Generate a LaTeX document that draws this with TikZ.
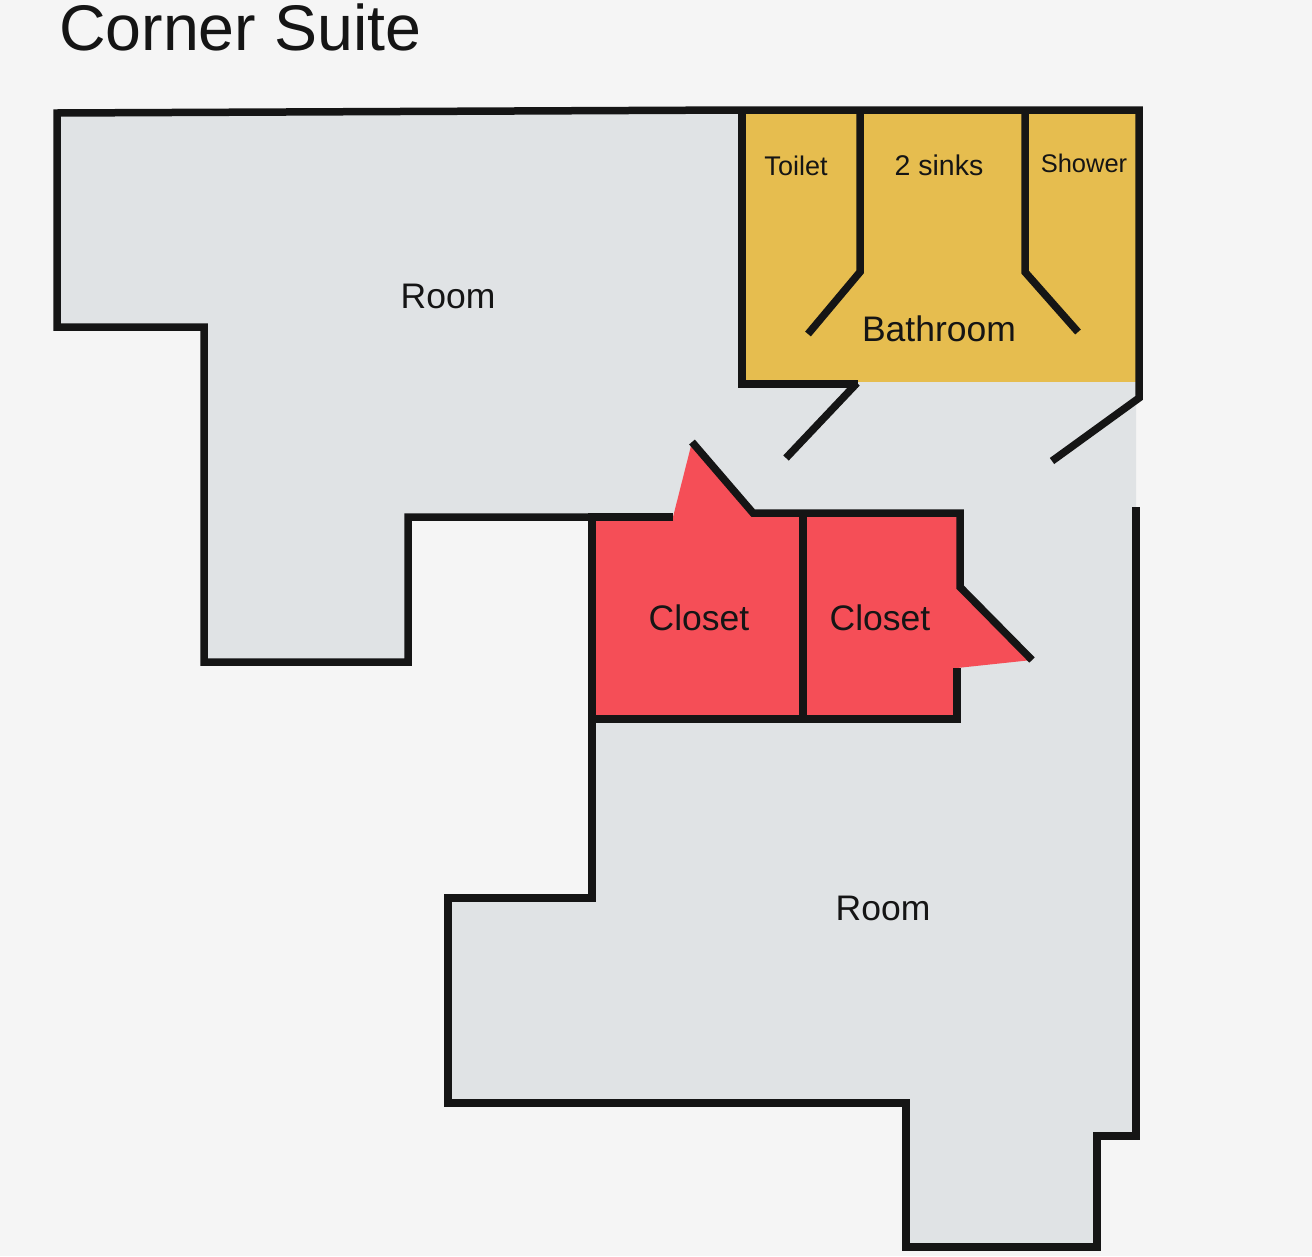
\documentclass[tikz,border=0pt]{standalone}
\usepackage{fontspec}
\setmainfont{Liberation Sans}
\definecolor{pagegray}{HTML}{F5F5F5}
\definecolor{roomgray}{HTML}{E0E3E5}
\definecolor{bathyellow}{HTML}{E6BD4F}
\definecolor{closetred}{HTML}{F54E57}
\definecolor{wallblack}{HTML}{151515}
\begin{document}
\begin{tikzpicture}[
  x=1pt,y=-1pt,
  wall/.style={draw=wallblack,line width=7.5pt,line join=miter},
  every node/.style={anchor=base,text=wallblack,inner sep=0pt},
  biglabel/.style={font=\fontsize{35.5}{40}\selectfont},
  smalllabel/.style={font=\fontsize{27}{32}\selectfont}
]%
  \useasboundingbox (0,0) rectangle (1312,1256);
  \fill[pagegray] (0,0) rectangle (1312,1256);

  % floor areas
  \fill[roomgray] (57,113)--(742,110)--(1136,110)--(1136,1136)--(1097,1136)--(1097,1247)--(906,1247)
    --(906,1103)--(448,1103)--(448,898)--(592,898)--(592,517)--(408,517)--(408,662)--(204,662)
    --(204,327)--(57,327)--cycle;
  \fill[bathyellow] (742,110)--(1136,110)--(1136,382)--(742,382)--cycle;
  \fill[closetred] (592,517)--(673,517)--(692,442)--(753,513)--(960,513)--(960,587)--(1032,660)
    --(957,668)--(957,719)--(592,719)--cycle;

  % walls
  \draw[wall] (592,517)--(408,517)--(408,662)--(204,662)--(204,327)--(57,327)--(57,113)--(742,110)
    --(1139,110)--(1139,398)--(1052,461);
  \draw[wall] (742,110)--(742,384)--(858,384);
  \draw[wall] (857,383)--(786,458);
  \draw[wall] (860,110)--(860,272)--(808,334);
  \draw[wall] (1025,110)--(1025,272)--(1078,332);
  \draw[wall] (673,517)--(592,517)--(592,898)--(448,898)--(448,1103)--(906,1103)--(906,1247)
    --(1097,1247)--(1097,1136)--(1136,1136)--(1136,507);
  \draw[wall] (692,442)--(753,513)--(960,513)--(960,587)--(1032,660);
  \draw[wall] (957,668)--(957,719)--(592,719);
  \draw[wall] (803,513)--(803,719);

  \node (title) [anchor=base west,font=\fontsize{64.5}{70}\selectfont] at (59,50) {Corner Suite};
  \node (roomA) [biglabel] at (448,308) {Room};
  \node (roomB) [biglabel] at (883,920) {Room};
  \node (closetA) [biglabel] at (699,630) {Closet};
  \node (closetB) [biglabel] at (880,630) {Closet};
  \node (bath) [biglabel] at (939,341) {Bathroom};
  \node (toilet) [smalllabel] at (796,175) {Toilet};
  \node (sinks) [smalllabel,font=\fontsize{28.5}{32}\selectfont] at (939,175) {2 sinks};
  \node (shower) [smalllabel,font=\fontsize{25.5}{30}\selectfont] at (1084,172) {Shower};
\end{tikzpicture}
\end{document}
